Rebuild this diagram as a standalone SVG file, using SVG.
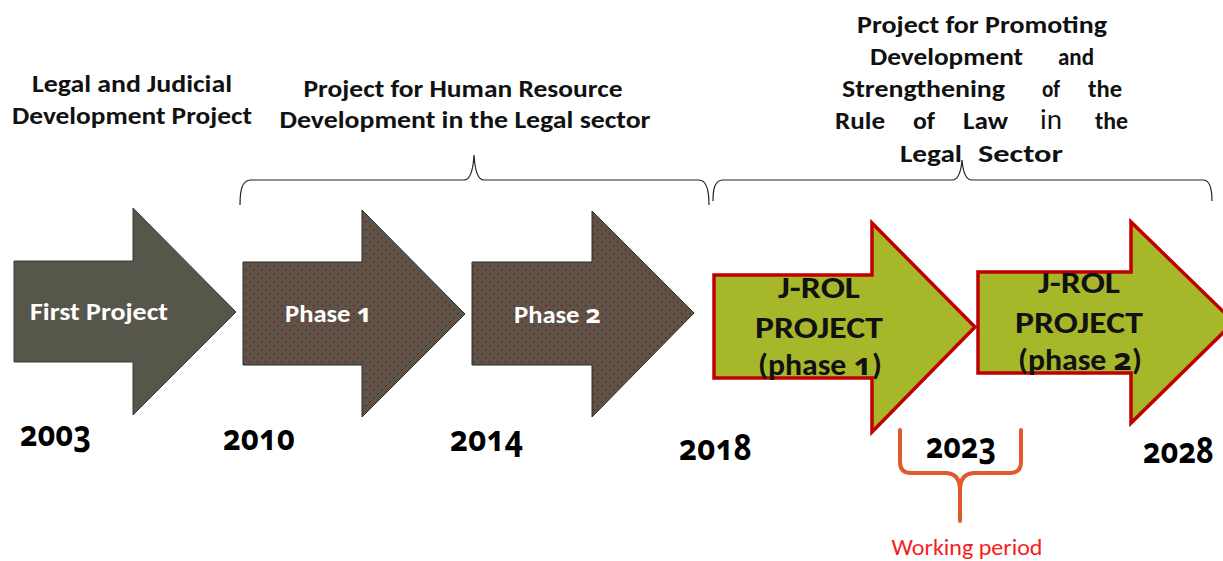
<svg xmlns="http://www.w3.org/2000/svg" width="1223" height="561" viewBox="0 0 1223 561">
<style>
.t{font-family:Carlito,Lato,"Open Sans",sans-serif;font-weight:bold}
.lbl{font-size:25px;fill:#111}
.w{font-size:25px;fill:#fff}
.g{font-size:30px;fill:#111;text-anchor:middle}
.yr{font-family:"Noto Sans","Open Sans",sans-serif;font-weight:bold;font-size:36px;fill:#000;font-variant-numeric:oldstyle-nums;font-feature-settings:"onum" 1}
.on{font-family:"Noto Sans","Open Sans",sans-serif;font-variant-numeric:oldstyle-nums;font-feature-settings:"onum" 1}
.brace{fill:none;stroke:#222;stroke-width:1.2}
.dark{fill:#57564a;stroke:#3a3a32;stroke-width:1}
.dotted{fill:url(#dots);stroke:#2a2a24;stroke-width:1}
.green{fill:#a6b72a;stroke:#c00000;stroke-width:3.5}
</style>
<defs>
<pattern id="dots" width="8" height="8" patternUnits="userSpaceOnUse">
<rect width="8" height="8" fill="#57564a"/>
<rect x="1" y="1" width="1.6" height="1.6" fill="#c00000"/>
<rect x="5" y="5" width="1.6" height="1.6" fill="#c00000"/>
</pattern>
</defs>
<rect width="1223" height="561" fill="#fff"/>

<g id="connectors">
<path class="brace" d="M240,205 C240,190 242,181 250,180 L464,180 C470,180 473,172 474,155 C475,172 478,180 484,180 L699,180 C706,180 709,190 709,205"/>
<path class="brace" d="M713,201 C713,188 715,181 722,180 L952,180 C958,180 961,172 962,160 C963,172 966,180 972,180 L1203,180 C1210,180 1212,188 1212,201"/>
<path d="M900,430 L900,462 Q900,473 911,473 L945,473 Q960,473 960,490 L960,521 M1021,430 L1021,462 Q1021,473 1010,473 L975,473 Q960,473 960,490" fill="none" stroke="#e05a2b" stroke-width="4" stroke-linecap="round" stroke-linejoin="round"/>
</g>

<g id="label-ljdp">
<text class="t lbl" x="132" y="92" text-anchor="middle" textLength="200" lengthAdjust="spacingAndGlyphs">Legal and Judicial</text>
<text class="t lbl" x="132" y="124" text-anchor="middle" textLength="240" lengthAdjust="spacingAndGlyphs">Development Project</text>
</g>
<g id="label-hrd">
<text class="t lbl" x="463" y="97" text-anchor="middle" textLength="319" lengthAdjust="spacingAndGlyphs">Project for Human Resource</text>
<text class="t lbl" x="465" y="128" text-anchor="middle" textLength="371" lengthAdjust="spacingAndGlyphs">Development in the Legal sector</text>
</g>
<g id="label-jrol">
<text class="t lbl" x="982" y="33" text-anchor="middle" textLength="250" lengthAdjust="spacingAndGlyphs">Project for Promoting</text>
<text class="t lbl" x="870" y="65" textLength="153" lengthAdjust="spacingAndGlyphs">Development</text>
<text class="t lbl" x="1058" y="65" textLength="36" lengthAdjust="spacingAndGlyphs">and</text>
<text class="t lbl" x="842" y="97" textLength="163" lengthAdjust="spacingAndGlyphs">Strengthening</text>
<text class="t lbl" x="1042" y="97" textLength="18" lengthAdjust="spacingAndGlyphs">of</text>
<text class="t lbl" x="1088" y="97" textLength="34" lengthAdjust="spacingAndGlyphs">the</text>
<text class="t lbl" x="835" y="129" textLength="50" lengthAdjust="spacingAndGlyphs">Rule</text>
<text class="t lbl" x="913" y="129" textLength="22" lengthAdjust="spacingAndGlyphs">of</text>
<text class="t lbl" x="963" y="129" textLength="45" lengthAdjust="spacingAndGlyphs">Law</text>
<text x="1040" y="129" font-family="Carlito,Lato,'Open Sans',sans-serif" font-size="29" fill="#111" textLength="22" lengthAdjust="spacingAndGlyphs">in</text>
<text class="t lbl" x="1095" y="129" textLength="33" lengthAdjust="spacingAndGlyphs">the</text>
<text class="t lbl" x="900" y="162" textLength="62" lengthAdjust="spacingAndGlyphs">Legal</text>
<text class="t lbl" x="978" y="162" textLength="85" lengthAdjust="spacingAndGlyphs">Sector</text>
</g>

<g id="node-first">
<path class="dark" d="M14,261 L133,261 L133,208 L236,312 L133,415 L133,362 L14,362 Z"/>
<text class="t w" x="99" y="320" text-anchor="middle" textLength="138" lengthAdjust="spacingAndGlyphs">First Project</text>
</g>
<g id="node-phase1">
<path class="dotted" d="M243,262 L362,262 L362,210 L465,314 L362,417 L362,365 L243,365 Z"/>
<text class="t w" x="285" y="322" textLength="87" lengthAdjust="spacingAndGlyphs">Phase <tspan class="on">1</tspan></text>
</g>
<g id="node-phase2">
<path class="dotted" d="M472,262 L592,262 L592,211 L694,313 L592,417 L592,365 L472,365 Z"/>
<text class="t w" x="514" y="323" textLength="87" lengthAdjust="spacingAndGlyphs">Phase <tspan class="on">2</tspan></text>
</g>
<g id="node-jrol1">
<path class="green" d="M714,275 L872,275 L872,223 L975,327 L872,432 L872,378 L714,378 Z"/>
<text class="t g" x="819" y="298" textLength="82" lengthAdjust="spacingAndGlyphs">J-ROL</text>
<text class="t g" x="819" y="338" textLength="128" lengthAdjust="spacingAndGlyphs">PROJECT</text>
<text class="t g" x="820" y="375" textLength="124" lengthAdjust="spacingAndGlyphs">(phase <tspan class="on">1</tspan>)</text>
</g>
<g id="node-jrol2">
<path class="green" d="M978,272 L1131,272 L1131,222 L1234,322 L1131,423 L1131,373 L978,373 Z"/>
<text class="t g" x="1079" y="293" textLength="82" lengthAdjust="spacingAndGlyphs">J-ROL</text>
<text class="t g" x="1079" y="333" textLength="128" lengthAdjust="spacingAndGlyphs">PROJECT</text>
<text class="t g" x="1080" y="370" textLength="124" lengthAdjust="spacingAndGlyphs">(phase <tspan class="on">2</tspan>)</text>
</g>

<g id="years">
<text class="yr" x="20" y="446" textLength="71" lengthAdjust="spacingAndGlyphs">2003</text>
<text class="yr" x="223" y="450" textLength="72" lengthAdjust="spacingAndGlyphs">2010</text>
<text class="yr" x="450" y="451" textLength="73" lengthAdjust="spacingAndGlyphs">2014</text>
<text class="yr" x="679" y="460" textLength="73" lengthAdjust="spacingAndGlyphs">2018</text>
<text class="yr" x="926" y="458" textLength="70" lengthAdjust="spacingAndGlyphs">2023</text>
<text class="yr" x="1143" y="463" textLength="71" lengthAdjust="spacingAndGlyphs">2028</text>
</g>

<g id="label-working">
<text x="967" y="555" text-anchor="middle" font-family="Carlito,Lato,'Open Sans',sans-serif" font-size="22" fill="#f51c1c" textLength="151" lengthAdjust="spacingAndGlyphs">Working period</text>
</g>
</svg>
